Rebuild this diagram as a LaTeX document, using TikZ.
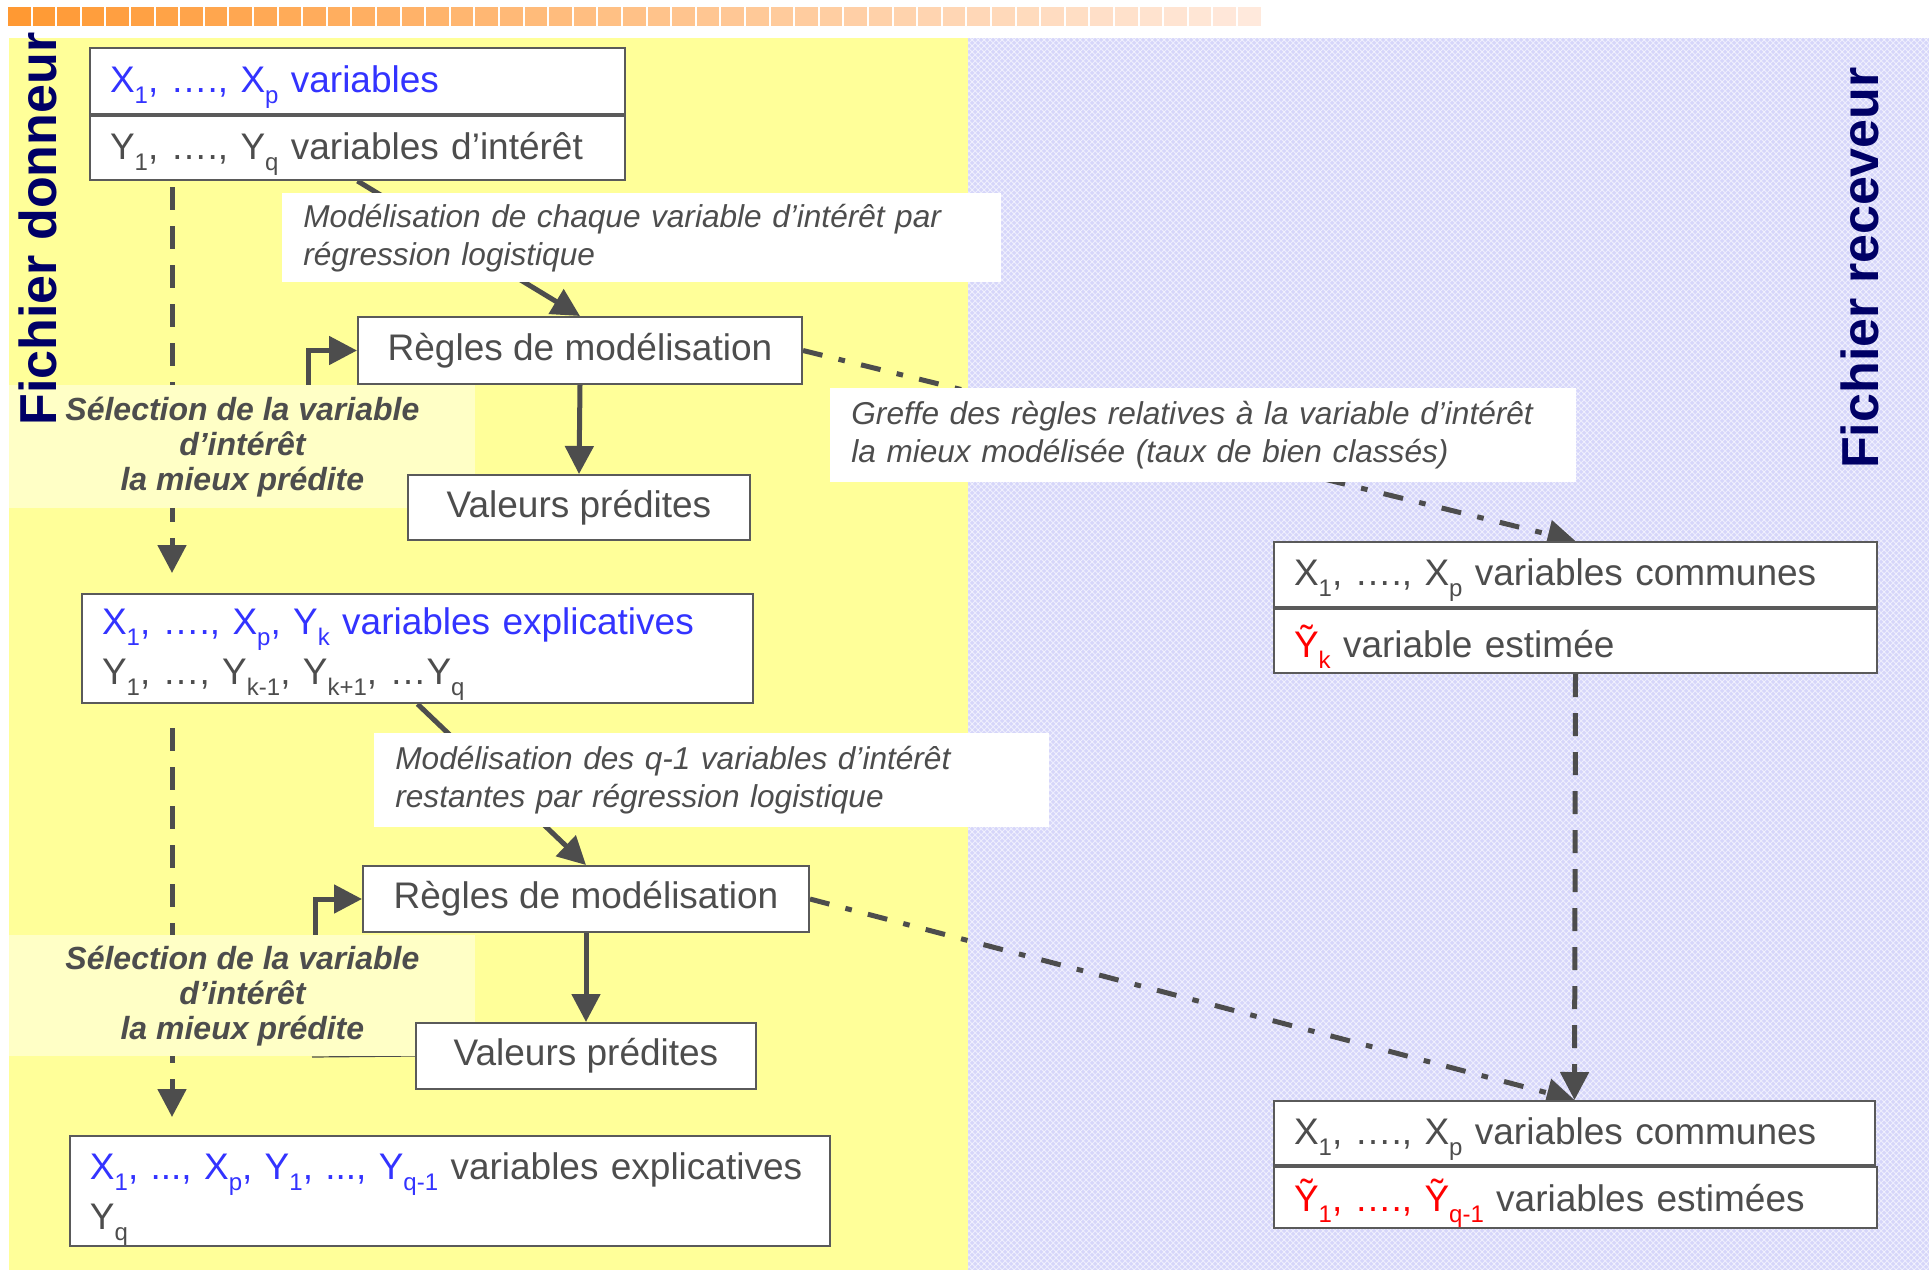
\documentclass[tikz,border=0pt]{standalone}
\usepackage{fontspec}
\setmainfont{Liberation Sans}
\usetikzlibrary{arrows.meta,positioning,calc,patterns}
\definecolor{barorange}{RGB}{255,153,51}
\definecolor{barpale}{RGB}{255,233,220}
\definecolor{donorbg}{RGB}{255,255,153}
\definecolor{recvbg}{RGB}{214,214,250}
\definecolor{pickfill}{RGB}{255,255,198}
\definecolor{titlenavy}{RGB}{0,0,102}
\definecolor{txtgrey}{RGB}{77,77,77}
\definecolor{txtblue}{RGB}{51,51,255}
\definecolor{arrgrey}{RGB}{77,77,77}
\definecolor{boxline}{RGB}{90,90,90}
\newcommand{\sbs}[1]{\raisebox{-0.3em}[0pt][0pt]{\fontsize{12}{12}\selectfont#1}}
\pgfdeclarelayer{back}
\pgfsetlayers{back,main}

\begin{document}
\begin{tikzpicture}[x=0.5pt,y=-0.5pt,
  box/.style={draw=boxline,line width=1pt,fill=white,anchor=north west,inner xsep=10pt,inner ysep=0pt,text=txtgrey,font=\fontsize{18.5}{25}\selectfont},
  rowbox/.style={box,align=left},
  note/.style={fill=white,anchor=north west,align=left,inner xsep=10.5pt,inner ysep=0pt,text=txtgrey,font=\fontsize{15.8}{19}\selectfont\itshape},
  pick/.style={fill=pickfill,anchor=north west,align=center,inner sep=0pt,text=txtgrey,font=\fontsize{16}{17.5}\selectfont\bfseries\itshape},
  side/.style={rotate=90,text=titlenavy,inner sep=0pt,font=\fontsize{26}{30}\selectfont\bfseries},
  flow/.style={draw=arrgrey,line width=2.5pt,-{Triangle[length=14pt,width=14pt]}},
  dashflow/.style={flow,dash pattern=on 11.5pt off 8pt},
  graftflow/.style={flow,dash pattern=on 10pt off 8.3pt on 3.3pt off 8.3pt}]
\useasboundingbox (0,0) rectangle (1929,1270);

% selection of the best predicted variable
\node[pick,minimum width=233pt,minimum height=61.5pt] (pick1) at (9,385) {Sélection de la variable\\d’intérêt\\la mieux prédite};
\node[pick,minimum width=233pt,minimum height=60.5pt] (pick2) at (9,935) {Sélection de la variable\\d’intérêt\\la mieux prédite};

% donor file
\node[rowbox,text width=247.5pt,minimum height=33pt] (xvars) at (89,47) {\color{txtblue}X\sbs{1}, …., X\sbs{p} variables};
\node[rowbox,text width=247.5pt,minimum height=32pt] (yvars) at (xvars.south west) {Y\sbs{1}, …., Y\sbs{q} variables d’intérêt};
\node[box,minimum width=222pt,minimum height=33.5pt] (rules1) at (357,316) {Règles de modélisation};
\node[box,minimum width=171pt,minimum height=32.5pt] (pred1) at (407,474) {Valeurs prédites};
\node[rowbox,text width=315.5pt,minimum height=54.5pt] (expl1) at (81,593) {{\color{txtblue}X\sbs{1}, …., X\sbs{p}, Y\sbs{k} variables explicatives}\\Y\sbs{1}, …, Y\sbs{k-1}, Y\sbs{k+1}, …Y\sbs{q}};
\node[box,minimum width=223pt,minimum height=33pt] (rules2) at (362,865) {Règles de modélisation};
\node[box,minimum width=170pt,minimum height=33pt] (pred2) at (415,1022) {Valeurs prédites};
\node[rowbox,text width=360pt,minimum height=55pt] (expl2) at (69,1135) {\mbox{{\color{txtblue}X\sbs{1}, ..., X\sbs{p}, Y\sbs{1}, ..., Y\sbs{q-1}} variables explicatives}\\Y\sbs{q}};

% receiver file
\node[rowbox,text width=281.5pt,minimum height=32.5pt] (common1) at (1273,541) {X\sbs{1}, …., X\sbs{p} variables communes};
\node[rowbox,text width=281.5pt,minimum height=32pt] (est1) at (common1.south west) {{\color{red}Ỹ\sbs{k}} variable estimée};
\node[rowbox,text width=280.5pt,minimum height=32pt] (common2) at (1273,1100) {X\sbs{1}, …., X\sbs{p} variables communes};
\node[rowbox,text width=281.5pt,minimum height=30.5pt] (est2) at (common2.south west) {{\color{red}Ỹ\sbs{1}, …., Ỹ\sbs{q-1}} variables estimées};

% labels
\node[note,text width=338.5pt,minimum height=44.5pt] (model1) at (282,193) {Modélisation de chaque variable d’intérêt par\\régression logistique};
\node[note,text width=316.5pt,minimum height=47pt] (model2) at (374,733) {Modélisation des q-1 variables d’intérêt\\restantes par régression logistique};
\node[note,text width=352pt,minimum height=47pt] (graft) at (830,388) {Greffe des règles relatives à la variable d’intérêt\\la mieux modélisée (taux de bien classés)};

\node[side] (donneur) at (38,229) {Fichier donneur};
\node[side] (receveur) at (1860,268) {Fichier receveur};

\coordinate (dashx) at (172,0);
\coordinate (linkend) at (312,1057);

\begin{pgfonlayer}{back}
\fill[donorbg] (9,38) rectangle (968,1270);
\fill[recvbg] (968,38) rectangle (1929,1270);
\fill[pattern=crosshatch,pattern color=white,opacity=0.6] (968,38) rectangle (1929,1270);
\foreach \i in {0,...,50} {
  \pgfmathtruncatemacro\p{100-2*\i}
  \fill[barorange!\p!barpale] ({8+24.6*\i},7) rectangle ({30.6+24.6*\i},26);
}
\draw[flow] (yvars.south) -- (rules1.north);
\draw[flow] (rules1.south) -- (pred1.north);
\draw[dashflow,shorten <=3pt,shorten >=10pt] (yvars.south -| dashx) -- (expl1.north -| dashx);
\draw[flow] ([xshift=33pt]pick1.north) |- (rules1.west);
\draw[graftflow] (rules1.east) -- (common1.north);
\draw[flow] (expl1.south) -- (rules2.north);
\draw[flow] (rules2.south) -- (pred2.north);
\draw[dashflow,shorten <=12pt,shorten >=9pt] (expl1.south -| dashx) -- (expl2.north -| dashx);
\draw[flow] ([xshift=36.5pt]pick2.north) |- (rules2.west);
\draw[graftflow] (rules2.east) -- (common2.north);
\draw[dashflow] (est1.south) -- (common2.north);
\draw[arrgrey,line width=0.6pt] (pred2.west) -- (linkend);
\end{pgfonlayer}
\end{tikzpicture}
\end{document}
